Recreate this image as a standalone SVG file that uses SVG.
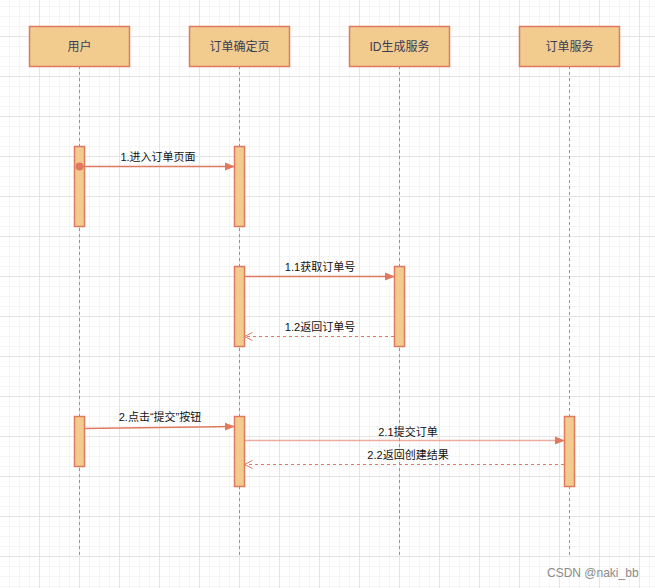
<svg xmlns="http://www.w3.org/2000/svg" width="655" height="588" viewBox="0 0 655 588">
<defs>
<pattern id="grid" x="39" y="36" width="40" height="40" patternUnits="userSpaceOnUse">
<rect x="10" y="0" width="1" height="40" fill="#f5f5f5"/>
<rect x="20" y="0" width="1" height="40" fill="#f5f5f5"/>
<rect x="30" y="0" width="1" height="40" fill="#f5f5f5"/>
<rect x="0" y="10" width="40" height="1" fill="#f5f5f5"/>
<rect x="0" y="20" width="40" height="1" fill="#f5f5f5"/>
<rect x="0" y="30" width="40" height="1" fill="#f5f5f5"/>
<rect x="0" y="0" width="1" height="40" fill="#e4e4e4"/>
<rect x="0" y="0" width="40" height="1" fill="#e4e4e4"/>
</pattern>
<marker id="fill" viewBox="0 0 10 10" refX="9" refY="5" markerWidth="10" markerHeight="10" markerUnits="userSpaceOnUse" orient="auto">
<path d="M0,1 L10,5 L0,9 Z" fill="#E07A5F"/>
</marker>
<marker id="open" viewBox="0 0 10 10" refX="9" refY="5" markerWidth="10" markerHeight="10" markerUnits="userSpaceOnUse" orient="auto">
<path d="M1,1 L9,5 L1,9" fill="none" stroke="#E07A5F" stroke-width="1"/>
</marker>
</defs>
<style>
.actor{fill:#F2CC8F;stroke:#E07A5F;stroke-width:1.5}
.actor-t{font-family:"Liberation Sans","Noto Sans CJK SC",sans-serif;font-size:12px;fill:#393C56;text-anchor:middle}
.life{stroke:#E07A5F;stroke-width:1;stroke-dasharray:3 3;fill:none}
.act{fill:#F2CC8F;stroke:#E07A5F;stroke-width:1.5}
.msg{stroke:#E07A5F;stroke-width:1.5;fill:none}
.ret{stroke:#E07A5F;stroke-width:1;stroke-dasharray:3 3;fill:none}
.lbl{font-family:"Liberation Sans","Noto Sans CJK SC",sans-serif;font-size:11px;fill:#111;text-anchor:middle}
.wm{font-family:"Liberation Sans","Noto Sans CJK SC",sans-serif;font-size:12px;fill:#8a8a8a}
</style>
<rect width="655" height="588" fill="#ffffff"/>
<rect width="655" height="588" fill="url(#grid)"/>

<g id="lifelines">
<line class="life" x1="79.5" y1="66" x2="79.5" y2="556"/>
<line class="life" x1="239.5" y1="66" x2="239.5" y2="556"/>
<line class="life" x1="399.5" y1="66" x2="399.5" y2="556"/>
<line class="life" x1="569.5" y1="66" x2="569.5" y2="556"/>
</g>

<g id="user">
<rect class="actor" x="29.5" y="26.5" width="100" height="40"/>
<text class="actor-t" x="79.5" y="50.5">用户</text>
</g>
<g id="order-page">
<rect class="actor" x="189.5" y="26.5" width="100" height="40"/>
<text class="actor-t" x="239.5" y="50.5">订单确定页</text>
</g>
<g id="id-service">
<rect class="actor" x="349.5" y="26.5" width="100" height="40"/>
<text class="actor-t" x="399.5" y="50.5">ID生成服务</text>
</g>
<g id="order-service">
<rect class="actor" x="519.5" y="26.5" width="100" height="40"/>
<text class="actor-t" x="569.5" y="50.5">订单服务</text>
</g>

<g id="activations">
<rect class="act" x="74.5" y="146.5" width="10" height="80"/>
<rect class="act" x="234.5" y="146.5" width="10" height="80"/>
<rect class="act" x="234.5" y="266.5" width="10" height="80"/>
<rect class="act" x="394.5" y="266.5" width="10" height="80"/>
<rect class="act" x="74.5" y="416.5" width="10" height="50"/>
<rect class="act" x="234.5" y="416.5" width="10" height="70"/>
<rect class="act" x="564.5" y="416.5" width="10" height="70"/>
</g>

<g id="connectors">
<circle cx="79.5" cy="166.5" r="4" fill="#E07A5F"/>
<line class="msg" x1="80" y1="166.5" x2="234" y2="166.5" marker-end="url(#fill)"/>
<line class="msg" x1="244.5" y1="276.5" x2="394" y2="276.5" marker-end="url(#fill)"/>
<line class="ret" x1="394" y1="336.5" x2="244.5" y2="336.5" marker-end="url(#open)"/>
<line class="msg" x1="84.5" y1="428.5" x2="234" y2="426.5" marker-end="url(#fill)"/>
<line class="msg" x1="244.5" y1="440.5" x2="564" y2="440.5" stroke-opacity="0.6" marker-end="url(#fill)"/>
<line class="ret" x1="564" y1="464.5" x2="244.5" y2="464.5" marker-end="url(#open)"/>
</g>

<g id="labels">
<text class="lbl" x="158" y="161">1.进入订单页面</text>
<text class="lbl" x="320" y="271">1.1获取订单号</text>
<text class="lbl" x="320" y="331">1.2返回订单号</text>
<text class="lbl" x="160" y="421">2.点击“提交”按钮</text>
<text class="lbl" x="408" y="436">2.1提交订单</text>
<text class="lbl" x="408" y="459">2.2返回创建结果</text>
</g>

<text class="wm" x="547" y="577">CSDN @naki_bb</text>
</svg>
